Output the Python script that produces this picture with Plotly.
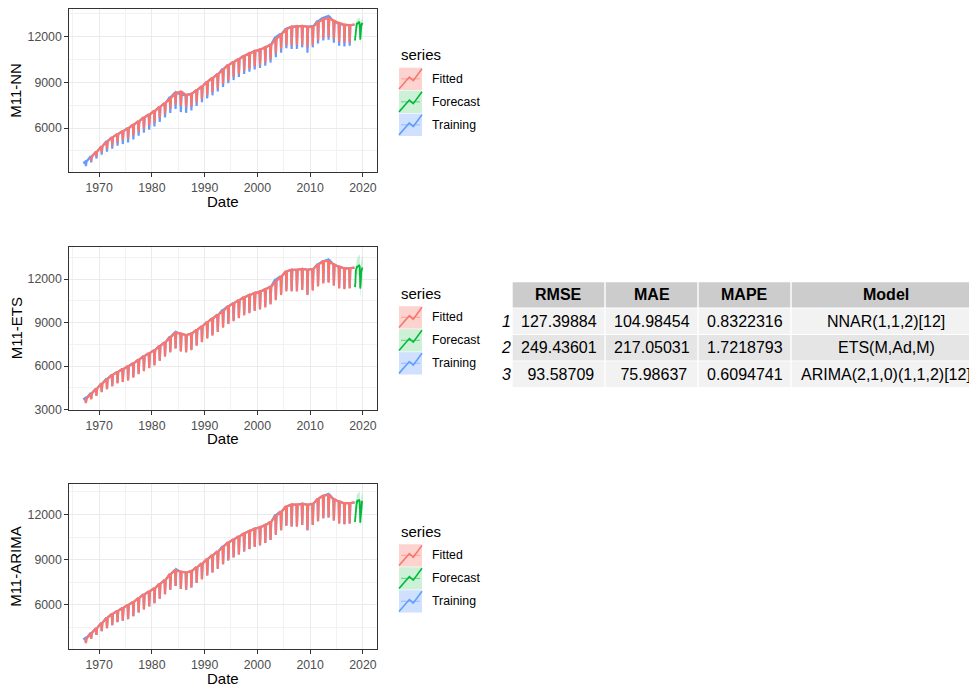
import plotly.graph_objects as go

# page is 977x691; the html body adds an 8px margin, so the figure is drawn at (8, 8)
PAGE_W, PAGE_H = 977, 691
OFF = 8
W, H = PAGE_W - OFF, PAGE_H - OFF

# ---------------- data ----------------
years = list(range(1967, 2019))            # 1967 .. 2018
train_start = 3700                           # Jan 1967
# level before the mid-year dip, 1967..2018
train_hi = [3800, 4150, 4450, 4800, 5150, 5400, 5600, 5800, 6000, 6200, 6450, 6700, 6900,
            7100, 7400, 7650, 8050, 8350, 8200, 8150, 8250, 8500, 8750, 9050, 9300, 9550,
            9900, 10150, 10350, 10550, 10750, 10900, 11050, 11150, 11300, 11500, 12000,
            12200, 12550, 12650, 12650, 12700, 12650, 12700, 13050, 13250, 13350, 13000,
            12850, 12750, 12750, 12800]
# seasonal dip (July), 1967..2017
train_lo = [3500, 3750, 4000, 4250, 4450, 4650, 4850, 4950, 5050, 5250, 5500, 5700, 5900,
            6100, 6400, 6700, 7000, 7250, 7050, 7000, 7150, 7450, 7700, 7950, 8150, 8400,
            8700, 8950, 9150, 9350, 9550, 9700, 9850, 9950, 10100, 10300, 10650, 10950,
            11250, 11200, 11200, 11300, 10950, 11300, 11550, 11750, 11800, 11600, 11400,
            11350, 11400]

# NNAR fitted, 1968..2018 / 1968..2017
nn_hi = [4100, 4450, 4800, 5100, 5400, 5600, 5800, 6000, 6250, 6450, 6700, 6900, 7150,
         7400, 7650, 7950, 8300, 8400, 8200, 8250, 8500, 8750, 9050, 9300, 9550, 9850,
         10150, 10350, 10550, 10750, 10900, 11050, 11150, 11300, 11450, 11850, 12150,
         12500, 12650, 12700, 12700, 12650, 12650, 12950, 13150, 13200, 13050, 12900,
         12800, 12750, 12800]
nn_lo = [3850, 4150, 4400, 4650, 4850, 5050, 5200, 5300, 5500, 5750, 5950, 6150, 6350,
         6650, 6950, 7250, 7550, 7450, 7350, 7400, 7650, 7900, 8150, 8350, 8600, 8900,
         9150, 9350, 9550, 9750, 9900, 10050, 10150, 10300, 10500, 10900, 11200, 11400,
         11400, 11450, 11450, 11300, 11450, 11750, 11900, 12000, 11850, 11650, 11600, 11600]

# ETS fitted, 1967..2018 / 1967..2017
ets_hi = [3750, 4100, 4450, 4800, 5100, 5400, 5600, 5800, 6000, 6200, 6450, 6700, 6900,
          7100, 7400, 7650, 8000, 8300, 8250, 8150, 8250, 8500, 8750, 9050, 9300, 9550,
          9800, 10150, 10350, 10550, 10750, 10900, 11050, 11150, 11300, 11450, 11850,
          12200, 12550, 12650, 12650, 12700, 12650, 12700, 13000, 13250, 13250, 13000,
          12850, 12750, 12750, 12800]
ets_lo = [3450, 3700, 3950, 4200, 4400, 4600, 4800, 4900, 5000, 5200, 5450, 5650, 5850,
          6050, 6350, 6650, 6950, 7200, 7000, 6950, 7100, 7400, 7650, 7900, 8100, 8350,
          8650, 8900, 9100, 9300, 9500, 9650, 9800, 9900, 10050, 10250, 10550, 10900,
          11150, 11150, 11150, 11250, 10900, 11200, 11500, 11700, 11750, 11550, 11350,
          11300, 11350]

# ARIMA fitted, 1967..2018 / 1967..2017
arima_hi = [3750, 4100, 4450, 4800, 5150, 5400, 5600, 5800, 6000, 6200, 6450, 6700, 6900,
            7100, 7400, 7650, 8050, 8300, 8200, 8150, 8250, 8500, 8750, 9050, 9300, 9550,
            9850, 10150, 10350, 10550, 10750, 10900, 11050, 11150, 11300, 11500, 11900,
            12200, 12550, 12650, 12650, 12700, 12650, 12700, 13050, 13250, 13300, 13000,
            12850, 12750, 12750, 12800]
arima_lo = [3450, 3750, 4000, 4250, 4450, 4650, 4850, 4950, 5050, 5250, 5500, 5700, 5900,
            6100, 6400, 6700, 7000, 7250, 7050, 7000, 7150, 7450, 7700, 7950, 8150, 8400,
            8700, 8950, 9150, 9350, 9550, 9700, 9850, 9950, 10100, 10300, 10650, 10950,
            11250, 11200, 11200, 11300, 10950, 11300, 11550, 11750, 11800, 11600, 11400,
            11350, 11400]

# 18-month forecasts, Jul 2018 .. Dec 2019
fc_months = list(range(18))
nn_fc = [11750, 12050, 12650, 12800, 12850, 12850, 12850, 12900, 12900, 12950, 12950, 12850,
         11800, 12100, 12700, 12850, 12900, 12900]
nn_lo95 = [11450, 11750, 12350, 12500, 12550, 12550, 12550, 12600, 12600, 12600, 12600, 12500,
           11450, 11750, 12350, 12500, 12500, 12500]
nn_hi95 = [12050, 12350, 12950, 13100, 13150, 13150, 13150, 13200, 13200, 13250, 13250, 13200,
           12150, 12450, 13050, 13200, 13300, 13300]
ets_fc = [11450, 11750, 12600, 12800, 12850, 12900, 12850, 12900, 12950, 12950, 12950, 12850,
          11350, 11650, 12500, 12700, 12750, 12800]
ets_lo95 = [11150, 11400, 12200, 12350, 12350, 12350, 12250, 12250, 12250, 12250, 12200, 12050,
            10750, 10950, 11750, 11900, 11900, 11950]
ets_hi95 = [11750, 12100, 13000, 13250, 13350, 13450, 13450, 13550, 13650, 13650, 13700, 13650,
            11950, 12350, 13250, 13500, 13600, 13650]
arima_fc = [11500, 11850, 12650, 12800, 12850, 12900, 12850, 12900, 12950, 12950, 12950, 12850,
            11450, 11800, 12650, 12800, 12850, 12900]
arima_lo95 = [11250, 11550, 12300, 12400, 12400, 12450, 12350, 12400, 12400, 12400, 12400, 12250,
              11150, 11450, 12150, 12250, 12250, 12300]
arima_hi95 = [11750, 12150, 13000, 13200, 13300, 13350, 13350, 13400, 13450, 13500, 13500, 13450,
              11750, 12150, 13150, 13350, 13450, 13500]

x_ticks = [1970, 1980, 1990, 2000, 2010, 2020]
x_minor = [1965, 1975, 1985, 1995, 2005, 2015]

panel_names = ["M11-NN", "M11-ETS", "M11-ARIMA"]
legend_labels = ["Fitted", "Forecast", "Training"]

table_header = ["RMSE", "MAE", "MAPE", "Model"]
rmse = [127.39884, 249.43601, 93.58709]
mae = [104.98454, 217.05031, 75.98637]
mape = [0.8322316, 1.7218793, 0.6094741]
models = ["NNAR(1,1,2)[12]", "ETS(M,Ad,M)", "ARIMA(2,1,0)(1,1,2)[12]"]

# ---------------- styling ----------------
C_FIT = "#F8766D"
C_FC = "#00BA38"
C_TR = "#619CFF"
FONT = "Liberation Sans, Arial, sans-serif"
TICK_SIZE = 12.3
TITLE_SIZE = 15


def px(x):          # page pixel -> paper fraction
    return (x - OFF) / W


def py(y):
    return 1 - (y - OFF) / H


def path(yrs, hi, lo, start=None):
    xs, ys = [], []
    if start is not None:
        xs.append(yrs[0]); ys.append(start)
    for i, y in enumerate(yrs):
        xs.append(y + 5 / 12); ys.append(hi[i])
        if i < len(lo):
            xs.append(y + 6 / 12); ys.append(lo[i])
            xs.append(y + 7.5 / 12); ys.append(hi[i])
    return xs, ys


fig = go.Figure()

panels = [
    dict(fit=(years[1:], nn_hi, nn_lo), fc=(nn_fc, nn_lo95, nn_hi95),
         ydom=(9.3, 174.0), yr=(3097, 13799), yt=[6000, 9000, 12000], ym=[4500, 7500, 10500, 13500]),
    dict(fit=(years, ets_hi, ets_lo), fc=(ets_fc, ets_lo95, ets_hi95),
         ydom=(249.3, 414.0), yr=(2985, 14230), yt=[3000, 6000, 9000, 12000], ym=[4500, 7500, 10500, 13500]),
    dict(fit=(years, arima_hi, arima_lo), fc=(arima_fc, arima_lo95, arima_hi95),
         ydom=(489.3, 656.0), yr=(3043, 13998), yt=[6000, 9000, 12000], ym=[4500, 7500, 10500, 13500]),
]

X0, X1 = 69.3, 376.7
tx, ty = path(years, train_hi, train_lo, start=train_start)
fc_x = [2018 + (6 + m) / 12 for m in fc_months]

for k, p in enumerate(panels):
    xa = "x" if k == 0 else f"x{k+1}"
    ya = "y" if k == 0 else f"y{k+1}"
    fig.add_trace(go.Scatter(x=tx, y=ty, mode="lines", line=dict(color=C_TR, width=2.2),
                             xaxis=xa, yaxis=ya, showlegend=False, hoverinfo="skip"))
    fx, fy = path(*p["fit"])
    fig.add_trace(go.Scatter(x=fx, y=fy, mode="lines", line=dict(color=C_FIT, width=2.2),
                             xaxis=xa, yaxis=ya, showlegend=False, hoverinfo="skip"))
    fc, lo95, hi95 = p["fc"]
    fig.add_trace(go.Scatter(x=fc_x, y=lo95, mode="lines", line=dict(width=0, color=C_FC),
                             xaxis=xa, yaxis=ya, showlegend=False, hoverinfo="skip"))
    fig.add_trace(go.Scatter(x=fc_x, y=hi95, mode="lines", line=dict(width=0, color=C_FC),
                             fill="tonexty", fillcolor="rgba(0,186,56,0.22)",
                             xaxis=xa, yaxis=ya, showlegend=False, hoverinfo="skip"))
    fig.add_trace(go.Scatter(x=fc_x, y=fc, mode="lines", line=dict(color=C_FC, width=1.8),
                             xaxis=xa, yaxis=ya, showlegend=False, hoverinfo="skip"))

    top, bot = p["ydom"]
    axcommon = dict(showline=True, mirror=True, linecolor="#333333", linewidth=1.1,
                    ticks="outside", ticklen=4, tickcolor="#333333", tickwidth=1.1,
                    showgrid=True, gridcolor="#EBEBEB", gridwidth=1.1, zeroline=False,
                    tickfont=dict(family=FONT, size=TICK_SIZE, color="#4D4D4D"))
    fig.layout[("xaxis" if k == 0 else f"xaxis{k+1}")] = dict(
        domain=[px(X0), px(X1)], anchor=ya, range=[1964.36, 2022.62],
        tickvals=x_ticks, ticktext=[str(v) for v in x_ticks],
        minor=dict(tickvals=x_minor, showgrid=True, gridcolor="#F2F2F2", gridwidth=0.6, ticks=""),
        **axcommon)
    fig.layout[("yaxis" if k == 0 else f"yaxis{k+1}")] = dict(
        domain=[py(bot), py(top)], anchor=xa, range=list(p["yr"]),
        tickvals=p["yt"], ticktext=[str(v) for v in p["yt"]],
        minor=dict(tickvals=p["ym"], showgrid=True, gridcolor="#F2F2F2", gridwidth=0.6, ticks=""),
        **axcommon)

annotations = []
shapes = []

for k, p in enumerate(panels):
    top, bot = p["ydom"]
    # axis titles
    annotations.append(dict(text=panel_names[k], x=px(16), y=py((top + bot) / 2), xref="paper", yref="paper",
                            textangle=-90, showarrow=False, xanchor="center", yanchor="middle",
                            font=dict(family=FONT, size=TITLE_SIZE, color="black")))
    annotations.append(dict(text="Date", x=px((X0 + X1) / 2), y=py(bot + 29), xref="paper", yref="paper",
                            showarrow=False, xanchor="center", yanchor="middle",
                            font=dict(family=FONT, size=TITLE_SIZE, color="black")))
    # legend
    off = [0, 241, 481.5][k]
    annotations.append(dict(text="series", x=px(398.5), y=py(55 + off), xref="paper", yref="paper",
                            showarrow=False, xanchor="left", yanchor="middle",
                            font=dict(family=FONT, size=TITLE_SIZE, color="black")))
    key_cols = [(C_FIT, "rgba(248,118,109,0.32)"), (C_FC, "rgba(0,186,56,0.2)"), (C_TR, "rgba(97,156,255,0.3)")]
    for j, lab in enumerate(legend_labels):
        kt = 68.3 + off + j * 23.2
        kb = kt + 22.6
        kl, kr = 399.0, 422.0
        line_c, fill_c = key_cols[j]
        shapes.append(dict(type="rect", xref="paper", yref="paper", x0=px(kl), x1=px(kr),
                           y0=py(kb), y1=py(kt), fillcolor=fill_c, line=dict(width=0), layer="above"))
        shapes.append(dict(type="line", xref="paper", yref="paper", x0=px(kl + 2), x1=px(kr - 2),
                           y0=py((kt + kb) / 2), y1=py((kt + kb) / 2),
                           line=dict(color=line_c, width=1.2), opacity=0.45, layer="above"))
        pts = [(0.0, 0.95), (0.45, 0.42), (0.62, 0.58), (1.0, 0.05)]
        d = "M " + " L ".join(f"{px(kl + a * (kr - kl))},{py(kt + b * (kb - kt))}" for a, b in pts)
        shapes.append(dict(type="path", xref="paper", yref="paper", path=d,
                           line=dict(color=line_c, width=1.6), layer="above"))
        annotations.append(dict(text=lab, x=px(430), y=py((kt + kb) / 2), xref="paper", yref="paper",
                                showarrow=False, xanchor="left", yanchor="middle",
                                font=dict(family=FONT, size=TICK_SIZE, color="black")))

# ---------------- table ----------------
col_edges = [(495.0, 511.7), (512.7, 604.3), (605.7, 697.3), (698.7, 790.3), (791.7, 981.0)]
row_top0, row_pitch, row_h = 285.0, 26.7, 25.7
row_fills = ["#F2F2F2", "#E5E5E5", "#F2F2F2"]


def fmt5(v):
    return f"{v:9.5f}".replace(" ", "\u00a0")


body = [[fmt5(rmse[i]), fmt5(mae[i]), f"{mape[i]:.7f}", models[i]] for i in range(len(models))]

for c, name in enumerate(table_header):
    x0, x1 = col_edges[c + 1]
    shapes.append(dict(type="rect", xref="paper", yref="paper", x0=px(x0), x1=px(x1),
                       y0=py(row_top0 + row_h), y1=py(row_top0), fillcolor="#CCCCCC", line=dict(width=0)))
    annotations.append(dict(text=f"<b>{name}</b>", x=px((x0 + x1) / 2), y=py(row_top0 + row_h / 2),
                            xref="paper", yref="paper", showarrow=False, xanchor="center", yanchor="middle",
                            font=dict(family=FONT, size=16, color="black")))

for r, row in enumerate(body):
    t = row_top0 + (r + 1) * row_pitch
    ix0, ix1 = col_edges[0]
    annotations.append(dict(text=f"<i>{r+1}</i>", x=px((ix0 + ix1) / 2 + 3), y=py(t + row_h / 2),
                            xref="paper", yref="paper", showarrow=False, xanchor="center", yanchor="middle",
                            font=dict(family=FONT, size=16, color="black")))
    for c, val in enumerate(row):
        x0, x1 = col_edges[c + 1]
        shapes.append(dict(type="rect", xref="paper", yref="paper", x0=px(x0), x1=px(x1),
                           y0=py(t + row_h), y1=py(t), fillcolor=row_fills[r], line=dict(width=0)))
        annotations.append(dict(text=val, x=px((x0 + x1) / 2), y=py(t + row_h / 2),
                                xref="paper", yref="paper", showarrow=False, xanchor="center", yanchor="middle",
                                font=dict(family=FONT, size=16, color="black")))

fig.update_layout(width=W, height=H, margin=dict(l=0, r=0, t=0, b=0), autosize=False,
                  paper_bgcolor="white", plot_bgcolor="white", showlegend=False,
                  annotations=annotations, shapes=shapes, font=dict(family=FONT))

fig.write_html("out.html")
